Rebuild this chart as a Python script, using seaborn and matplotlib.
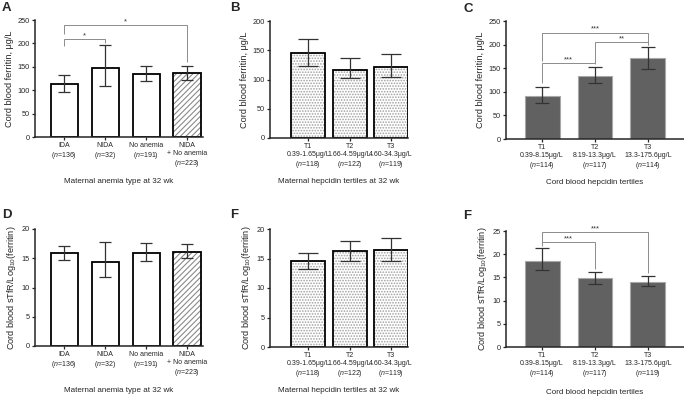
import pandas as pd
import numpy as np
import matplotlib
matplotlib.use("Agg")
import matplotlib.pyplot as plt
import seaborn as sns

# ------------------------------------------------------------------
# Data
# ------------------------------------------------------------------
anemia_cats = ["IDA", "NIDA", "No anemia", "NIDA+No"]
anemia_labels = ["IDA\n($n$=136)", "NIDA\n($n$=32)", "No anemia\n($n$=191)",
                 "NIDA\n+ No anemia\n($n$=223)"]
mat_cats = ["T1", "T2", "T3"]
mat_labels = ["T1\n0.39-1.65μg/L\n($n$=118)",
              "T2\n1.66-4.59μg/L\n($n$=122)",
              "T3\n4.60-34.3μg/L\n($n$=119)"]
cord_cats = ["T1", "T2", "T3"]
cord_labels_top = ["T1\n0.39-8.15μg/L\n($n$=114)",
                   "T2\n8.19-13.3μg/L\n($n$=117)",
                   "T3\n13.3-175.6μg/L\n($n$=114)"]
cord_labels_bot = ["T1\n0.39-8.15μg/L\n($n$=114)",
                   "T2\n8.19-13.3μg/L\n($n$=117)",
                   "T3\n13.3-175.6μg/L\n($n$=119)"]

# ferritin (ug/L): mean, lower CI, upper CI
ferr_anemia = [113, 147, 134, 136]
ferr_anemia_lo = [97, 110, 120, 122]
ferr_anemia_hi = [132, 196, 152, 152]
ferr_mat = [145, 117, 122]
ferr_mat_lo = [123, 102, 105]
ferr_mat_hi = [170, 137, 143]
ferr_cord = [92, 133, 171]
ferr_cord_lo = [77, 118, 149]
ferr_cord_hi = [110, 152, 195]

# sTfR/log10(ferritin)
stfr_anemia = [15.9, 14.3, 15.9, 16.0]
stfr_anemia_lo = [14.7, 11.8, 14.6, 15.0]
stfr_anemia_hi = [17.1, 17.8, 17.6, 17.5]
stfr_mat = [14.5, 16.2, 16.4]
stfr_mat_lo = [13.3, 14.6, 14.6]
stfr_mat_hi = [16.0, 18.0, 18.4]
stfr_cord = [18.6, 14.8, 14.1]
stfr_cord_lo = [16.5, 13.5, 13.1]
stfr_cord_hi = [21.3, 16.1, 15.3]

# significance brackets: (i, j, y, left-leg end, right-leg end, text)
sig_A = [(0, 3, 239, 220, 160, "*"), (0, 1, 209, 195, 200, "*")]
sig_C = [(0, 2, 225, 165, 200, "***"), (1, 2, 205, 160, 200, "**"),
         (0, 1, 161, 118, 158, "***")]
sig_F = [(0, 2, 24.8, 22.5, 16.0, "***"), (0, 1, 22.6, 21.7, 16.8, "***")]

# ------------------------------------------------------------------
# Style
# ------------------------------------------------------------------
sns.set_style("ticks")
plt.rcParams['font.family'] = ['Liberation Sans', 'DejaVu Sans']
plt.rcParams['mathtext.fontset'] = 'custom'
plt.rcParams['mathtext.rm'] = 'Liberation Sans'
plt.rcParams['mathtext.it'] = 'Liberation Sans:italic'
plt.rcParams['hatch.linewidth'] = 0.8

W, H = 684, 396
fig = plt.figure(figsize=(W / 100, H / 100), dpi=100)


def make_ax(x0, x1, ytop, ybot):
    return fig.add_axes([x0 / W, 1 - ybot / H, (x1 - x0) / W, (ybot - ytop) / H])


def panel(ax, cats, labels, vals, lo, hi, style, width, capsize, xlim, ylim,
          yticks, ylabel, xlabel, xlabel_y):
    df = pd.DataFrame({"cat": cats, "val": vals})
    if style == "dark":
        sns.barplot(data=df, x="cat", y="val", color="#616161", width=width,
                    edgecolor="#a8a8a8", linewidth=0.8, saturation=1, ax=ax)
    else:
        sns.barplot(data=df, x="cat", y="val", color="white", width=width,
                    edgecolor="black", linewidth=1.3, saturation=1, ax=ax)
        for i, p in enumerate(ax.patches):
            if style == "dots":
                p.set_hatch("......")
                p._hatch_color = matplotlib.colors.to_rgba("#a0a0a0")
            elif style == "hatch" and i == len(cats) - 1:
                p.set_hatch("//////")
                p._hatch_color = matplotlib.colors.to_rgba("#8a8a8a")
    x = np.arange(len(cats))
    v = np.array(vals)
    ax.errorbar(x, v, yerr=[v - np.array(lo), np.array(hi) - v], fmt="none",
                ecolor="#333333", elinewidth=0.9, capsize=capsize, capthick=0.9)
    ax.set_xlim(*xlim)
    ax.set_ylim(*ylim)
    ax.set_yticks(yticks)
    ax.set_xticks(x)
    ax.set_xticklabels(labels, fontsize=5.0, linespacing=1.2)
    ax.tick_params(axis="y", labelsize=5.3, length=2.5, width=0.9, pad=1.2)
    ax.tick_params(axis="x", length=2, width=0.9, pad=1.5)
    ax.set_ylabel(ylabel, fontsize=6.6, labelpad=2.5)
    ax.set_xlabel(xlabel, fontsize=5.8)
    # place the x label at a fixed pixel row
    bb = ax.get_position()
    ax.xaxis.set_label_coords(0.5, ((1 - xlabel_y / H) - bb.y0) / bb.height)
    ax.xaxis.label.set_va("center")
    for s in ["left", "bottom"]:
        ax.spines[s].set_linewidth(1.1)
    sns.despine(ax=ax)


def brackets(ax, sigs):
    for i, j, y, l1, l2, txt in sigs:
        ax.plot([i, i, j, j], [l1, y, y, l2], color="#8c8c8c", lw=0.7,
                solid_capstyle="butt", clip_on=False)
        ax.text((i + j) / 2, y, txt, ha="center", va="bottom",
                fontsize=5.5, color="#333333")


axA = make_ax(35, 203, 20, 137)
panel(axA, anemia_cats, anemia_labels, ferr_anemia, ferr_anemia_lo, ferr_anemia_hi,
      "hatch", 0.66, 4.3, (-0.71, 3.39), (0, 250), [0, 50, 100, 150, 200, 250],
      "Cord blood ferritin, μg/L", "Maternal anemia type at 32 wk", 182)
brackets(axA, sig_A)

axB = make_ax(270, 408, 21, 138)
panel(axB, mat_cats, mat_labels, ferr_mat, ferr_mat_lo, ferr_mat_hi,
      "dots", 0.82, 7.5, (-0.92, 2.41), (0, 200), [0, 50, 100, 150, 200],
      "Cord blood ferritin, μg/L", "Maternal hepcidin tertiles at 32 wk", 182)

axC = make_ax(506, 684, 21, 139)
panel(axC, cord_cats, cord_labels_top, ferr_cord, ferr_cord_lo, ferr_cord_hi,
      "dark", 0.66, 5.2, (-0.68, 2.68), (0, 250), [0, 50, 100, 150, 200, 250],
      "Cord blood ferritin, μg/L", "Cord blood hepcidin tertiles", 182)
brackets(axC, sig_C)

axD = make_ax(35, 203, 229, 346)
panel(axD, anemia_cats, anemia_labels, stfr_anemia, stfr_anemia_lo, stfr_anemia_hi,
      "hatch", 0.66, 4.3, (-0.71, 3.39), (0, 20), [0, 5, 10, 15, 20],
      "Cord blood sTfR/Log$_{10}$(ferritin)", "Maternal anemia type at 32 wk", 391)

axE = make_ax(270, 408, 229, 347)
panel(axE, mat_cats, mat_labels, stfr_mat, stfr_mat_lo, stfr_mat_hi,
      "dots", 0.82, 7.5, (-0.92, 2.41), (0, 20), [0, 5, 10, 15, 20],
      "Cord blood sTfR/Log$_{10}$(ferritin)", "Maternal hepcidin tertiles at 32 wk", 391)

axF = make_ax(506, 684, 231, 347)
panel(axF, cord_cats, cord_labels_bot, stfr_cord, stfr_cord_lo, stfr_cord_hi,
      "dark", 0.66, 5.2, (-0.68, 2.68), (0, 25), [0, 5, 10, 15, 20, 25],
      "Cord blood sTfR/Log$_{10}$(ferritin)", "Cord blood hepcidin tertiles", 392)
brackets(axF, sig_F)

for ax in [axA, axB, axC, axD, axE, axF]:
    for ln in ax.lines:
        ln.set_clip_on(False)

# panel letters
for letter, px, py in [("A", 2, 8), ("B", 230, 8), ("C", 463, 9),
                       ("D", 2, 215), ("F", 230, 215), ("F", 463, 216)]:
    fig.text(px / W, 1 - py / H, letter, fontsize=9.5, fontweight="bold",
             ha="left", va="center")

fig.savefig("out.png", dpi=100)
